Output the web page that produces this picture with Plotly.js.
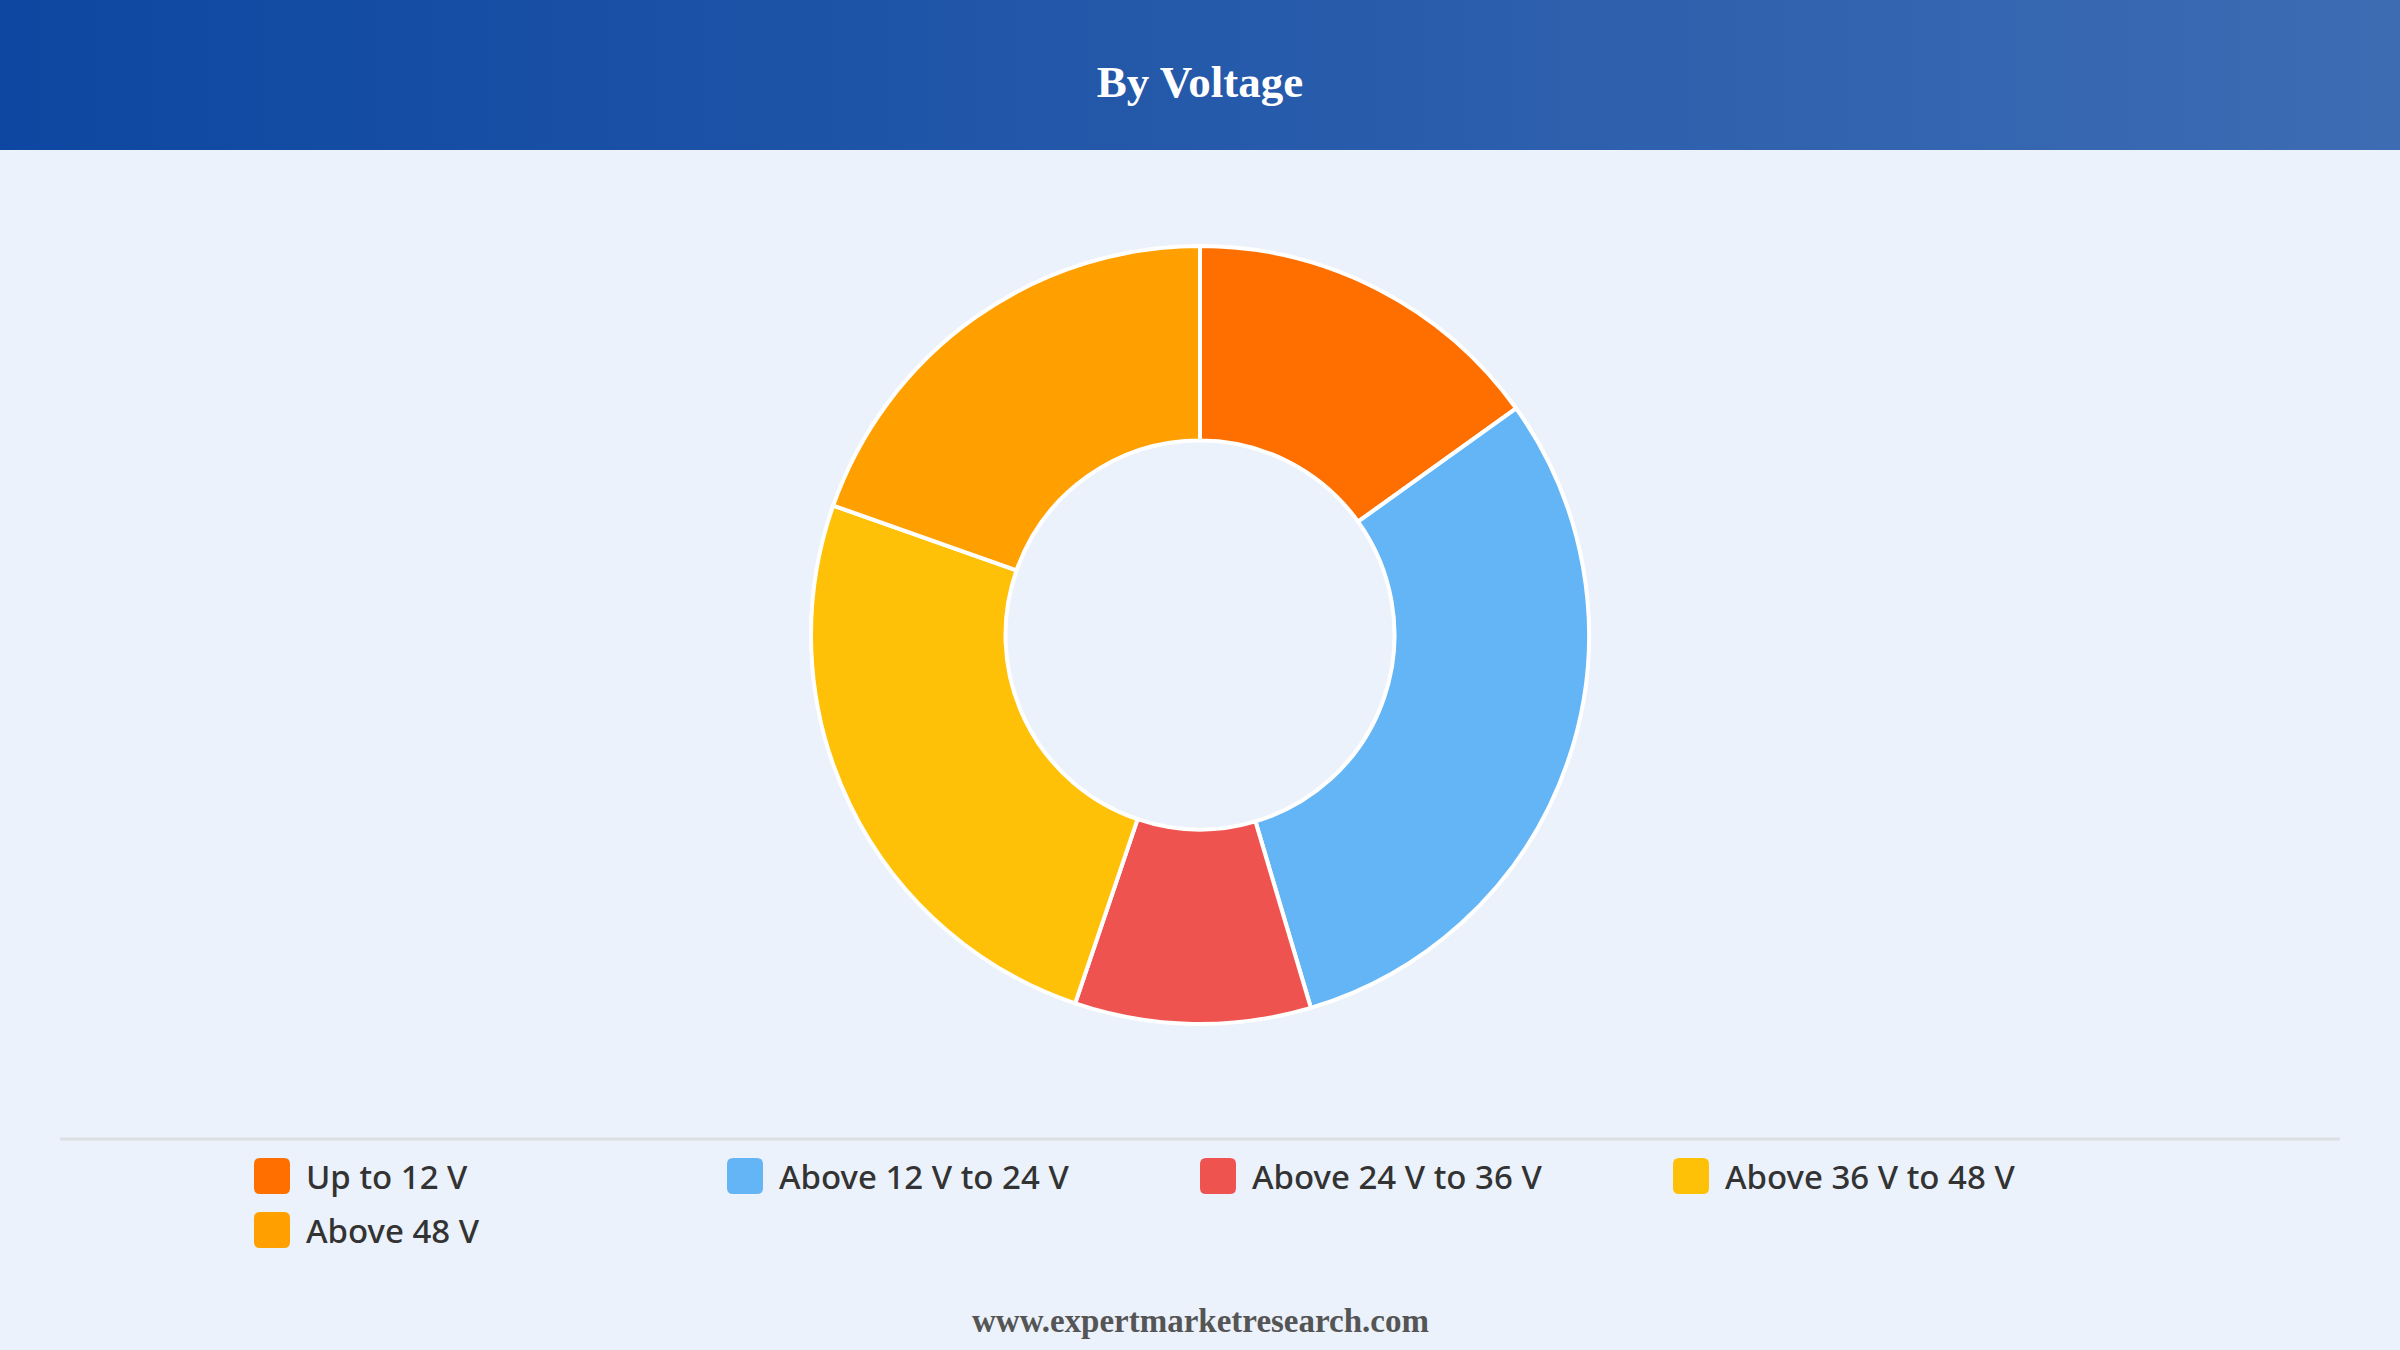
<!DOCTYPE html>
<html>
<head>
<meta charset="utf-8">
<script src="https://cdn.plot.ly/plotly-3.0.1.min.js"></script>
<style>
  html, body { margin: 0; padding: 0; }
  body {
    width: 2400px; height: 1350px; overflow: hidden;
    background: linear-gradient(to right, #0d47a1, #3d6cb3) top left / 100% 150px no-repeat, #ebf2fb;
  }
  #chart { width: 2400px; height: 1350px; }
</style>
</head>
<body>
<div id="chart"></div>
<script>
// slice data, clockwise from 12 o'clock
const labels = ['Up to 12 V', 'Above 12 V to 24 V', 'Above 24 V to 36 V', 'Above 36 V to 48 V', 'Above 48 V'];
const shares = [15.1, 30.3, 9.8, 25.2, 19.6];
const colors = ['#ff6f00', '#64b5f6', '#ef5350', '#ffc107', '#ffa000'];

const W = 2400, H = 1350;

// donut placement (px)
const cy = 635, rOuter = 389;

var trace = [{
    type: 'pie',
    labels: labels,
    values: shares,
    sort: false,
    direction: 'clockwise',
    rotation: 0,
    hole: 0.5,
    textinfo: 'none',
    hoverinfo: 'label+percent',
    showlegend: false,
    marker: { colors: colors, line: { color: '#ffffff', width: 4 } },
    domain: { x: [0, 1], y: [(H - cy - rOuter) / H, (H - cy + rOuter) / H] }
}];

// hand made legend: swatch + label, 4 per row
let shapes = [], annotations = [];
const legLeft = 254, colStep = 473, rowYs = [1176, 1230], sw = 36;
for (let i = 0; i < labels.length; ++i) {
    let col = i % 4, row = Math.floor(i / 4);
    let x0 = legLeft + col * colStep, yc = rowYs[row];
    let x1 = x0 + sw, y0 = yc - sw / 2, y1 = yc + sw / 2, r = 6;
    // rounded square, y flipped to paper coords
    let px = v => v / W, py = v => 1 - v / H;
    let path = 'M' + px(x0 + r) + ',' + py(y0) +
        ' L' + px(x1 - r) + ',' + py(y0) +
        ' Q' + px(x1) + ',' + py(y0) + ' ' + px(x1) + ',' + py(y0 + r) +
        ' L' + px(x1) + ',' + py(y1 - r) +
        ' Q' + px(x1) + ',' + py(y1) + ' ' + px(x1 - r) + ',' + py(y1) +
        ' L' + px(x0 + r) + ',' + py(y1) +
        ' Q' + px(x0) + ',' + py(y1) + ' ' + px(x0) + ',' + py(y1 - r) +
        ' L' + px(x0) + ',' + py(y0 + r) +
        ' Q' + px(x0) + ',' + py(y0) + ' ' + px(x0 + r) + ',' + py(y0) + ' Z';
    shapes.push({ type: 'path', xref: 'paper', yref: 'paper', path: path,
        fillcolor: colors[i], line: { width: 0 } });
    annotations.push({ xref: 'paper', yref: 'paper', x: (x0 + 50) / W, y: 1 - yc / H,
        xanchor: 'left', yanchor: 'middle', showarrow: false, text: labels[i],
        font: { family: 'Noto Sans, Open Sans, sans-serif', size: 33, weight: 500, color: '#333333' } });
}

// separator above the legend
shapes.push({ type: 'line', xref: 'paper', yref: 'paper',
    x0: 60 / W, x1: 2340 / W, y0: 1 - 1139 / H, y1: 1 - 1139 / H,
    line: { color: '#dcdfe3', width: 3 } });

// source line
annotations.push({ xref: 'paper', yref: 'paper', x: 0.5, y: 1 - 1321 / H,
    xanchor: 'center', yanchor: 'middle', showarrow: false,
    text: '<b>www.expertmarketresearch.com</b>',
    font: { family: 'Liberation Serif, Times New Roman, serif', size: 33, color: '#555555' } });

var layout = {
    width: W, height: H,
    margin: { l: 0, r: 0, t: 0, b: 0 },
    paper_bgcolor: 'rgba(0,0,0,0)',
    plot_bgcolor: 'rgba(0,0,0,0)',
    title: {
        text: '<b>By Voltage</b>',
        x: 0.5, xanchor: 'center',
        y: 1 - 81 / H, yanchor: 'middle',
        font: { family: 'Liberation Serif, Times New Roman, serif', size: 45, color: '#ffffff' }
    },
    shapes: shapes,
    annotations: annotations
};

Plotly.newPlot('chart', trace, layout, { displayModeBar: false, staticPlot: true });
</script>
</body>
</html>
